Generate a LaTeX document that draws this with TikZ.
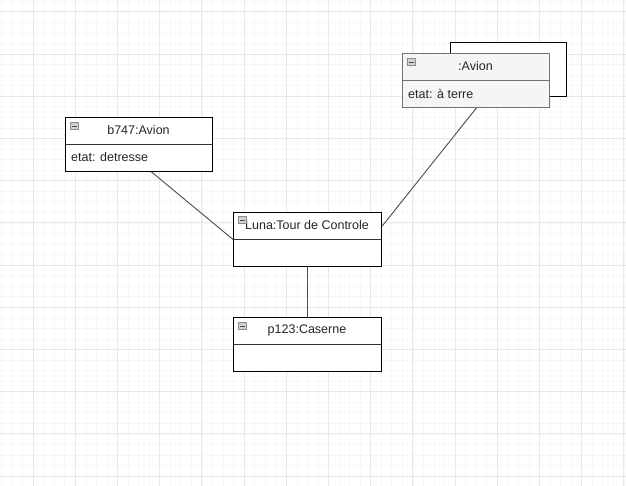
\documentclass[tikz,border=0pt]{standalone}
\usepackage{fontspec}
\setmainfont{Liberation Sans}
\begin{document}
\begin{tikzpicture}[x=1pt,y=-1pt,
  obj/.style={draw=black, line width=0.9pt, fill=white, minimum width=147pt, minimum height=54pt, inner sep=0pt, anchor=north west},
  objsel/.style={obj, draw=black!55, fill=black!4},
  hdr/.style={font=\fontsize{12.5}{14}\selectfont, inner sep=0pt, text=black!85},
  attr/.style={font=\fontsize{12.5}{14}\selectfont, inner sep=0pt, anchor=west, text=black!85},
  sepline/.style={draw=black!80, line width=0.9pt},
  link/.style={draw=black!70, line width=0.9pt},
  minusbox/.style={draw=black!45, fill=black!18, minimum width=8pt, minimum height=7pt, inner sep=0pt},
  minorgrid/.style={draw=black!3, line width=0.5pt},
  majorgrid/.style={draw=black!9, line width=0.7pt}
]
\useasboundingbox (0,0) rectangle (626,486);
\fill[white] (0,0) rectangle (626,486);
% grid
\foreach \i in {-3,...,59} {
  \draw[minorgrid] ({33+10.55*\i},0) -- ({33+10.55*\i},486);
}
\foreach \i in {-1,...,46} {
  \draw[minorgrid] (0,{11.8+10.55*\i}) -- (626,{11.8+10.55*\i});
}
\foreach \i in {-1,...,14} {
  \draw[majorgrid] ({33+42.2*\i},0) -- ({33+42.2*\i},486);
}
\foreach \i in {0,...,11} {
  \draw[majorgrid] (0,{11.8+42.2*\i}) -- (626,{11.8+42.2*\i});
}

% connectors drawn first, boxes on top
\node[obj, draw=none, fill=none] (b747) at (65,117) {};
\node[obj, draw=none, fill=none, minimum width=148pt] (luna) at (233,212) {};
\node[obj, draw=none, fill=none, minimum width=148pt] (p123) at (233,317) {};
\node[obj, draw=none, fill=none] (avion) at (402,53) {};
\draw[link] ([xshift=12.5pt]b747.south) -- (luna.west);
\draw[link] ([xshift=0.5pt]avion.south) -- ([yshift=13pt]luna.east);
\draw[link] (luna.south) -- (p123.north);

% b747:Avion
\node[obj] (b747box) at (65,117) {};
\draw[sepline] (65,144) -- (212,144);
\node[minusbox] (m1) at (74.5,126) {};
\draw[black!70, line width=0.9pt] ([xshift=-2.5pt]m1.center) -- ([xshift=2.5pt]m1.center);
\node[hdr] (t1) at (138.5,130.5) {b747:Avion};
\node[attr] (a1) at (71,157.5) {etat: detresse};

% :Avion (multi-object)
\node[draw=black, line width=0.9pt, fill=white, minimum width=116pt, minimum height=54pt, inner sep=0pt, anchor=north west] (avback) at (450,42) {};
\node[objsel] (avbox) at (402,53) {};
\draw[sepline, draw=black!55] (402,80) -- (549,80);
\node[minusbox] (m2) at (411.5,62) {};
\draw[black!70, line width=0.9pt] ([xshift=-2.5pt]m2.center) -- ([xshift=2.5pt]m2.center);
\node[hdr] (t2) at (475.5,66.5) {:Avion};
\node[attr] (a2) at (408,94) {etat: à terre};

% Luna:Tour de Controle
\node[obj, minimum width=148pt] (lunabox) at (233,212) {};
\draw[sepline] (233,239) -- (381,239);
\node[hdr] (t3) at (307,225.5) {Luna:Tour de Controle};
\node[minusbox] (m3) at (242.5,220) {};
\draw[black!70, line width=0.9pt] ([xshift=-2.5pt]m3.center) -- ([xshift=2.5pt]m3.center);

% p123:Caserne
\node[obj, minimum width=148pt] (p123box) at (233,317) {};
\draw[sepline] (233,344) -- (381,344);
\node[minusbox] (m4) at (242.5,326) {};
\draw[black!70, line width=0.9pt] ([xshift=-2.5pt]m4.center) -- ([xshift=2.5pt]m4.center);
\node[hdr] (t4) at (307,330.5) {p123:Caserne};
\end{tikzpicture}
\end{document}
